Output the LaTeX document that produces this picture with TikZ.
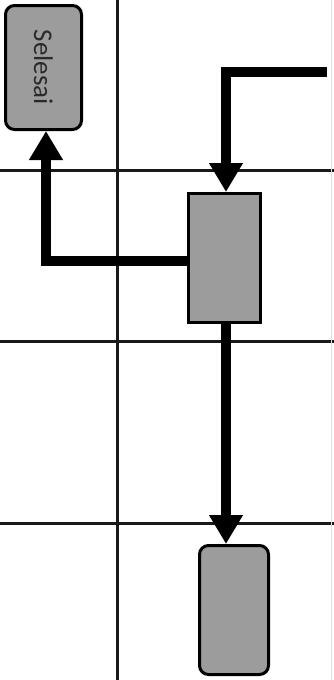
\documentclass[tikz,border=0pt]{standalone}
\usepackage{fontspec}
\setmainfont{Carlito}
\usetikzlibrary{arrows.meta}
\definecolor{boxgray}{HTML}{9C9C9C}
\definecolor{txtgray}{HTML}{2A2A2A}
\begin{document}
\begin{tikzpicture}[x=1pt,y=-1pt,
  gridline/.style={line width=3pt,color=black!90},
  termbox/.style={draw=black,line width=3pt,fill=boxgray,rounded corners=9pt,inner sep=0pt},
  procbox/.style={draw=black,line width=3pt,fill=boxgray,inner sep=0pt},
  flow/.style={line width=10pt,-{Triangle[length=29pt,width=32pt]}}
]
\useasboundingbox (0,0) rectangle (334,680);
\fill[white] (0,0) rectangle (334,680);
% grid
\draw[gridline] (117,0) -- (117,680);
\draw[gridline] (0,170) -- (334,170);
\draw[gridline] (0,341) -- (334,341);
\draw[gridline] (0,523) -- (334,523);
\draw[line width=0.8pt,black!12] (331,0) -- (331,680);
% nodes
\node[termbox,minimum width=76pt,minimum height=124pt] (end) at (43.5,67.5) {};
\node[rotate=-90,font=\fontsize{27}{30}\selectfont,text=txtgray] (endtxt) at (end.center) {Selesai};
\node[procbox,minimum width=72pt,minimum height=129pt] (proc) at (224.5,258) {};
\node[termbox,minimum width=69pt,minimum height=129pt] (next) at (234,610) {};
\coordinate (start) at (327,72);
\coordinate (corner) at (226,72);
\coordinate (lcorner) at (46,261);
% connectors
\draw[flow] (start) -- (corner) -- (corner |- proc.north);
\draw[flow] (proc.west |- lcorner) -- (lcorner) -- (lcorner |- end.south);
\draw[flow] (proc.south -| corner) -- (next.north -| corner);
\end{tikzpicture}
\end{document}
